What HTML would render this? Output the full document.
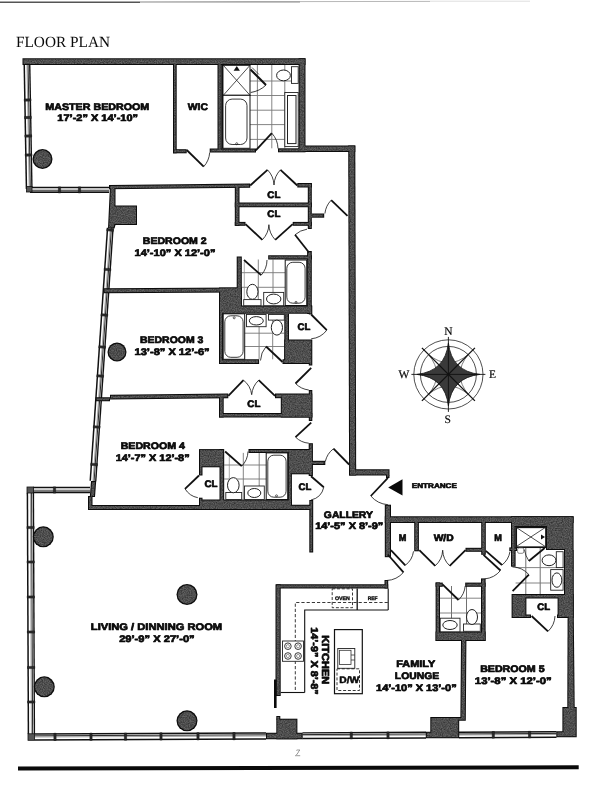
<!DOCTYPE html>
<html lang="en"><head><meta charset="utf-8"><title>Floor Plan</title>
<style>html,body{margin:0;padding:0;background:#ffffff}body{width:600px;height:800px;overflow:hidden}svg{display:block;filter:grayscale(1)}</style></head>
<body>
<svg width="600" height="800" viewBox="0 0 600 800">
<rect width="600" height="800" fill="#ffffff"/>
<g id="under"><line x1="257.4" y1="65" x2="257.4" y2="148.3" stroke="#777" stroke-width="0.9"/>
<line x1="271.8" y1="65" x2="271.8" y2="148.3" stroke="#777" stroke-width="0.9"/>
<line x1="284.8" y1="65" x2="284.8" y2="148.3" stroke="#777" stroke-width="0.9"/>
<line x1="250" y1="81" x2="298.6" y2="81" stroke="#777" stroke-width="0.9"/>
<line x1="250" y1="95.5" x2="298.6" y2="95.5" stroke="#777" stroke-width="0.9"/>
<line x1="250" y1="110.2" x2="298.6" y2="110.2" stroke="#777" stroke-width="0.9"/>
<line x1="250" y1="124.6" x2="298.6" y2="124.6" stroke="#777" stroke-width="0.9"/>
<line x1="250" y1="139.4" x2="298.6" y2="139.4" stroke="#777" stroke-width="0.9"/>
<line x1="258.3" y1="259.5" x2="258.3" y2="305.5" stroke="#777" stroke-width="0.9"/>
<line x1="273" y1="259.5" x2="273" y2="305.5" stroke="#777" stroke-width="0.9"/>
<line x1="241.8" y1="272.7" x2="285.2" y2="272.7" stroke="#777" stroke-width="0.9"/>
<line x1="241.8" y1="287.3" x2="285.2" y2="287.3" stroke="#777" stroke-width="0.9"/>
<line x1="244.3" y1="262" x2="244.3" y2="300" stroke="#888" stroke-width="0.7"/>
<line x1="259.1" y1="313.8" x2="259.1" y2="359.3" stroke="#777" stroke-width="0.9"/>
<line x1="272.7" y1="313.8" x2="272.7" y2="359.3" stroke="#777" stroke-width="0.9"/>
<line x1="223.2" y1="333.2" x2="284.3" y2="333.2" stroke="#777" stroke-width="0.9"/>
<line x1="223.2" y1="346.5" x2="284.3" y2="346.5" stroke="#777" stroke-width="0.9"/>
<line x1="243.3" y1="452.9" x2="243.3" y2="499.5" stroke="#777" stroke-width="0.9"/>
<line x1="259.2" y1="452.9" x2="259.2" y2="499.5" stroke="#777" stroke-width="0.9"/>
<line x1="224.2" y1="465" x2="287.7" y2="465" stroke="#777" stroke-width="0.9"/>
<line x1="224.2" y1="479" x2="287.7" y2="479" stroke="#777" stroke-width="0.9"/>
<line x1="229.3" y1="455" x2="229.3" y2="486" stroke="#888" stroke-width="0.7"/>
<line x1="525.8" y1="547" x2="525.8" y2="594" stroke="#333" stroke-width="0.7"/>
<line x1="540.2" y1="547" x2="540.2" y2="594" stroke="#333" stroke-width="0.7"/>
<line x1="515.6" y1="567.6" x2="564" y2="567.6" stroke="#777" stroke-width="0.9"/>
<line x1="515.6" y1="583" x2="564" y2="583" stroke="#777" stroke-width="0.9"/>
<line x1="451.5" y1="586" x2="451.5" y2="631.6" stroke="#333" stroke-width="0.7"/>
<line x1="466.5" y1="586" x2="466.5" y2="631.6" stroke="#333" stroke-width="0.7"/>
<line x1="440" y1="598.2" x2="481" y2="598.2" stroke="#777" stroke-width="0.9"/>
<line x1="440" y1="613" x2="481" y2="613" stroke="#777" stroke-width="0.9"/></g>
<g id="wins"><polygon points="24.25,65.05 26.45,189.05 31.95,188.95 29.75,64.95" fill="#fff" stroke="none"/>
<line x1="24.25" y1="65.05" x2="26.45" y2="189.05" stroke="#111" stroke-width="1.5"/>
<line x1="27" y1="65" x2="29.2" y2="189" stroke="#8a8a8a" stroke-width="0.8"/>
<line x1="28.1" y1="64.98" x2="30.3" y2="188.98" stroke="#2a2a2a" stroke-width="1.0"/>
<line x1="29.75" y1="64.95" x2="31.95" y2="188.95" stroke="#111" stroke-width="1.4"/>
<polygon points="24.25,98.96 24.29,101.16 30.99,101.04 30.95,98.84" fill="#2a2a2a" stroke="#111" stroke-width="0.5"/>
<polygon points="24.56,116.46 24.6,118.66 31.3,118.54 31.26,116.34" fill="#2a2a2a" stroke="#111" stroke-width="0.5"/>
<polygon points="24.89,134.96 24.93,137.16 31.63,137.04 31.59,134.84" fill="#2a2a2a" stroke="#111" stroke-width="0.5"/>
<polygon points="25.23,153.96 25.27,156.16 31.97,156.04 31.93,153.84" fill="#2a2a2a" stroke="#111" stroke-width="0.5"/>
<polygon points="30,192.3 109,192.3 109,187.5 30,187.5" fill="#fff" stroke="none"/>
<line x1="30" y1="187.5" x2="109" y2="187.5" stroke="#111" stroke-width="1.5"/>
<line x1="30" y1="189.9" x2="109" y2="189.9" stroke="#8a8a8a" stroke-width="0.8"/>
<line x1="30" y1="190.86" x2="109" y2="190.86" stroke="#2a2a2a" stroke-width="1.0"/>
<line x1="30" y1="192.3" x2="109" y2="192.3" stroke="#111" stroke-width="1.4"/>
<polygon points="58.4,192.9 60.6,192.9 60.6,186.9 58.4,186.9" fill="#2a2a2a" stroke="#111" stroke-width="0.5"/>
<polygon points="78.4,192.9 80.6,192.9 80.6,186.9 78.4,186.9" fill="#2a2a2a" stroke="#111" stroke-width="0.5"/>
<polygon points="107.56,227.81 90.26,480.81 95.74,481.19 113.04,228.19" fill="#fff" stroke="none"/>
<line x1="107.56" y1="227.81" x2="90.26" y2="480.81" stroke="#111" stroke-width="1.5"/>
<line x1="110.3" y1="228" x2="93" y2="481" stroke="#8a8a8a" stroke-width="0.8"/>
<line x1="111.4" y1="228.08" x2="94.1" y2="481.08" stroke="#2a2a2a" stroke-width="1.0"/>
<line x1="113.04" y1="228.19" x2="95.74" y2="481.19" stroke="#111" stroke-width="1.4"/>
<polygon points="106.9,228.67 106.75,230.87 113.43,231.33 113.58,229.13" fill="#2a2a2a" stroke="#111" stroke-width="0.5"/>
<polygon points="104.2,268.17 104.05,270.37 110.73,270.83 110.88,268.63" fill="#2a2a2a" stroke="#111" stroke-width="0.5"/>
<polygon points="101.08,313.67 100.93,315.87 107.62,316.33 107.77,314.13" fill="#2a2a2a" stroke="#111" stroke-width="0.5"/>
<polygon points="98.9,345.67 98.75,347.87 105.43,348.33 105.58,346.13" fill="#2a2a2a" stroke="#111" stroke-width="0.5"/>
<polygon points="96.91,374.67 96.76,376.87 103.45,377.33 103.6,375.13" fill="#2a2a2a" stroke="#111" stroke-width="0.5"/>
<polygon points="93.43,425.67 93.28,427.87 99.96,428.33 100.11,426.13" fill="#2a2a2a" stroke="#111" stroke-width="0.5"/>
<polygon points="90.86,463.17 90.71,465.37 97.4,465.83 97.55,463.63" fill="#2a2a2a" stroke="#111" stroke-width="0.5"/>
<polygon points="33,492.5 90,492.5 90,487.5 33,487.5" fill="#fff" stroke="none"/>
<line x1="33" y1="487.5" x2="90" y2="487.5" stroke="#111" stroke-width="1.5"/>
<line x1="33" y1="490" x2="90" y2="490" stroke="#8a8a8a" stroke-width="0.8"/>
<line x1="33" y1="491" x2="90" y2="491" stroke="#2a2a2a" stroke-width="1.0"/>
<line x1="33" y1="492.5" x2="90" y2="492.5" stroke="#111" stroke-width="1.4"/>
<polygon points="53.4,493.1 55.6,493.1 55.6,486.9 53.4,486.9" fill="#2a2a2a" stroke="#111" stroke-width="0.5"/>
<polygon points="27.4,493.01 28.4,734.01 34.4,733.99 33.4,492.99" fill="#fff" stroke="none"/>
<line x1="27.4" y1="493.01" x2="28.4" y2="734.01" stroke="#111" stroke-width="1.5"/>
<line x1="30.4" y1="493" x2="31.4" y2="734" stroke="#8a8a8a" stroke-width="0.8"/>
<line x1="31.6" y1="493" x2="32.6" y2="734" stroke="#2a2a2a" stroke-width="1.0"/>
<line x1="33.4" y1="492.99" x2="34.4" y2="733.99" stroke="#111" stroke-width="1.4"/>
<polygon points="26.94,526.41 26.95,528.61 34.15,528.59 34.14,526.39" fill="#2a2a2a" stroke="#111" stroke-width="0.5"/>
<polygon points="27.08,560.91 27.09,563.11 34.29,563.09 34.28,560.89" fill="#2a2a2a" stroke="#111" stroke-width="0.5"/>
<polygon points="27.23,595.91 27.24,598.11 34.44,598.09 34.43,595.89" fill="#2a2a2a" stroke="#111" stroke-width="0.5"/>
<polygon points="27.37,630.91 27.38,633.11 34.58,633.09 34.57,630.89" fill="#2a2a2a" stroke="#111" stroke-width="0.5"/>
<polygon points="27.52,666.41 27.53,668.61 34.73,668.59 34.72,666.39" fill="#2a2a2a" stroke="#111" stroke-width="0.5"/>
<polygon points="27.66,700.91 27.67,703.11 34.87,703.09 34.86,700.89" fill="#2a2a2a" stroke="#111" stroke-width="0.5"/>
<polygon points="34.51,740 266.01,739 265.99,733 34.49,734" fill="#fff" stroke="none"/>
<line x1="34.51" y1="740" x2="266.01" y2="739" stroke="#111" stroke-width="1.5"/>
<line x1="34.5" y1="737" x2="266" y2="736" stroke="#8a8a8a" stroke-width="0.8"/>
<line x1="34.49" y1="735.8" x2="265.99" y2="734.8" stroke="#2a2a2a" stroke-width="1.0"/>
<line x1="34.49" y1="734" x2="265.99" y2="733" stroke="#111" stroke-width="1.4"/>
<polygon points="53.92,740.52 56.12,740.51 56.08,733.31 53.88,733.32" fill="#2a2a2a" stroke="#111" stroke-width="0.5"/>
<polygon points="89.92,740.36 92.12,740.35 92.08,733.15 89.88,733.16" fill="#2a2a2a" stroke="#111" stroke-width="0.5"/>
<polygon points="124.42,740.21 126.62,740.2 126.58,733 124.38,733.01" fill="#2a2a2a" stroke="#111" stroke-width="0.5"/>
<polygon points="159.92,740.06 162.12,740.05 162.08,732.85 159.88,732.86" fill="#2a2a2a" stroke="#111" stroke-width="0.5"/>
<polygon points="196.92,739.9 199.12,739.89 199.08,732.69 196.88,732.7" fill="#2a2a2a" stroke="#111" stroke-width="0.5"/>
<polygon points="232.92,739.74 235.12,739.73 235.08,732.53 232.88,732.54" fill="#2a2a2a" stroke="#111" stroke-width="0.5"/>
<polygon points="302.51,738.5 426.01,737.9 425.99,732.3 302.49,732.9" fill="#fff" stroke="none"/>
<line x1="302.51" y1="738.5" x2="426.01" y2="737.9" stroke="#111" stroke-width="1.5"/>
<line x1="302.5" y1="735.7" x2="426" y2="735.1" stroke="#8a8a8a" stroke-width="0.8"/>
<line x1="302.49" y1="734.58" x2="425.99" y2="733.98" stroke="#2a2a2a" stroke-width="1.0"/>
<line x1="302.49" y1="732.9" x2="425.99" y2="732.3" stroke="#111" stroke-width="1.4"/>
<polygon points="350.22,738.87 352.42,738.86 352.38,732.06 350.18,732.07" fill="#2a2a2a" stroke="#111" stroke-width="0.5"/>
<polygon points="386.92,738.69 389.12,738.68 389.08,731.88 386.88,731.89" fill="#2a2a2a" stroke="#111" stroke-width="0.5"/>
<polygon points="459.01,737.7 556.51,737.2 556.49,731.8 458.99,732.3" fill="#fff" stroke="none"/>
<line x1="459.01" y1="737.7" x2="556.51" y2="737.2" stroke="#111" stroke-width="1.5"/>
<line x1="459" y1="735" x2="556.5" y2="734.5" stroke="#8a8a8a" stroke-width="0.8"/>
<line x1="458.99" y1="733.92" x2="556.49" y2="733.42" stroke="#2a2a2a" stroke-width="1.0"/>
<line x1="458.99" y1="732.3" x2="556.49" y2="731.8" stroke="#111" stroke-width="1.4"/>
<polygon points="492.22,738.13 494.42,738.12 494.38,731.52 492.18,731.53" fill="#2a2a2a" stroke="#111" stroke-width="0.5"/>
<polygon points="528.52,737.94 530.72,737.93 530.68,731.33 528.48,731.34" fill="#2a2a2a" stroke="#111" stroke-width="0.5"/></g>
<defs><filter id="er" x="0" y="0" width="600" height="800" filterUnits="userSpaceOnUse" color-interpolation-filters="sRGB"><feMorphology in="SourceAlpha" operator="erode" radius="0.9" result="e"/><feTurbulence type="fractalNoise" baseFrequency="0.85" numOctaves="2" seed="7" result="n"/><feColorMatrix in="n" type="matrix" values="0 0 0 0 0  0 0 0 0 0  0 0 0 0 0  1.6 0 0 0 -0.45" result="na"/><feFlood flood-color="#626262" result="g"/><feFlood flood-color="#2a2a2a" result="d"/><feComposite in="d" in2="na" operator="in" result="dn"/><feMerge result="tex"><feMergeNode in="g"/><feMergeNode in="dn"/></feMerge><feComposite in="tex" in2="e" operator="in"/></filter></defs>
<g id="walls" fill="#0c0c0c" stroke="none">
<polygon points="22.5,58.3 305.5,58.3 305.5,65 22.5,65"/>
<polygon points="298.6,58.3 305.5,58.3 305.5,152 298.6,152"/>
<polygon points="298.6,145.5 355.3,145.5 355.3,152 298.6,152"/>
<polygon points="348.2,145.5 355.3,145.5 356.2,475.5 349.1,475.5"/>
<polygon points="349.1,469.2 389.5,469.2 389.5,475.5 349.1,475.5"/>
<polygon points="386,475 389.5,475 389.5,478 386,478"/>
<polygon points="173,65 176.7,65 176.7,153.3 173,153.3"/>
<polygon points="173,149.2 186.7,149.2 186.7,153.3 173,153.3"/>
<polygon points="209.7,148.6 256,148.6 256,152.5 209.7,152.5"/>
<polygon points="217.5,65 221.8,65 221.8,152 217.5,152"/>
<polygon points="278,148.3 305.5,148.3 305.5,152.3 278,152.3"/>
<polygon points="109,184.9 250.2,183.4 250.2,187.7 109,189.3"/>
<polygon points="110,185 115.5,185 115.5,205.5 137,205.5 137,225 115.5,225 114.5,228.5 108,228.5"/>
<polygon points="234.8,184 239.5,184 239.5,225.8 234.8,225.8"/>
<polygon points="234.8,202.5 311.8,202.5 311.8,207.2 234.8,207.2"/>
<polygon points="307.8,183 311.8,183 311.8,229 307.8,229"/>
<polygon points="297.3,183 311.8,183 311.8,187.5 297.3,187.5"/>
<polygon points="234.8,221.9 245.5,221.9 245.5,225.8 234.8,225.8"/>
<polygon points="292.7,221.9 311.8,221.9 311.8,225.8 292.7,225.8"/>
<polygon points="311.8,213.5 324.2,213.5 324.2,217.7 311.8,217.7"/>
<polygon points="236.7,256.5 241.8,256.5 241.8,306 236.7,306"/>
<polygon points="268.2,255.3 311.8,255.3 311.8,259.5 268.2,259.5"/>
<polygon points="307.1,251 311.8,251 311.8,314 307.1,314"/>
<polygon points="219,305.5 311.8,305.5 311.8,313.8 219,313.8"/>
<polygon points="103.5,288.2 241,287.5 241,292.5 103.5,293.2"/>
<polygon points="219,287.5 241.8,287.5 241.8,313.8 219,313.8"/>
<polygon points="219,288 223.2,288 223.2,364 219,364"/>
<polygon points="219,359.3 259.1,359.3 259.1,364 219,364"/>
<polygon points="284.3,313.8 289,313.8 289,364 284.3,364"/>
<polygon points="284.3,339.5 312.3,339.5 312.3,365.5 308.8,365.5 308.8,364 282.5,364 282.5,359.3 284.3,359.3"/>
<polygon points="308.8,305.5 312.3,305.5 312.3,314.5 308.8,314.5"/>
<polygon points="95.5,397.2 110,397.2 110,394.8 228.3,393.5 228.3,398.2 110,399.5 110,401.3 95.5,401.3"/>
<polygon points="219,395.8 223.7,395.8 223.7,417.5 219,417.5"/>
<polygon points="219,412.9 312.3,412.9 312.3,417.5 219,417.5"/>
<polygon points="280.8,393.5 312.3,393.5 312.3,417.5 280.8,417.5"/>
<polygon points="275,393.5 281,393.5 281,398.2 275,398.2"/>
<polygon points="308.8,390 312.3,390 312.3,421 308.8,421"/>
<polygon points="199,449.1 223.5,449.1 223.5,467.3 199,467.3"/>
<polygon points="199,467 202.5,467 202.5,475.5 199,475.5"/>
<polygon points="199,497.7 202.5,497.7 202.5,508.5 199,508.5"/>
<polygon points="219.5,449.1 224.2,449.1 224.2,508.5 219.5,508.5"/>
<polygon points="248.5,449.1 312.2,449.1 312.2,452.9 248.5,452.9"/>
<polygon points="287.7,449.1 312.2,449.1 312.2,474.3 287.7,474.3"/>
<polygon points="287.7,474 291.9,474 291.9,508.5 287.7,508.5"/>
<polygon points="199,499.5 291.9,499.5 291.9,508.5 199,508.5"/>
<polygon points="199,504.7 312.5,504.7 312.5,508.5 199,508.5"/>
<polygon points="308.7,443.2 312.9,443.2 312.9,476 308.7,476"/>
<polygon points="309.3,500 313.2,500 313.2,552.5 309.3,552.5"/>
<polygon points="312.2,460.8 325.3,460.8 325.3,465 312.2,465"/>
<polygon points="88,505 312,505 312,510 88,510"/>
<polygon points="88,496 92.5,496 92.5,510 88,510"/>
<polygon points="91,481 96.2,481 95,497 89.8,497"/>
<polygon points="384.8,504.7 391,504.7 391,557.2 384.8,557.2"/>
<polygon points="384.8,516.3 573.6,516.3 573.6,522.9 384.8,522.9"/>
<polygon points="414.2,522.9 418.9,522.9 418.9,551.3 414.2,551.3"/>
<polygon points="481.2,522.9 485.8,522.9 485.8,554.8 481.2,554.8"/>
<polygon points="465.5,547.8 484.7,547.8 484.7,551.8 465.5,551.8"/>
<polygon points="511,522.6 515.6,522.6 515.6,566.7 511,566.7"/>
<polygon points="509.3,547.4 517,547.4 517,551 509.3,551"/>
<polygon points="511,516.3 546,516.3 546,527 511,527"/>
<polygon points="546,516.3 573.6,516.3 573.6,550 546,550"/>
<polygon points="564,550 573.8,550 573.8,618 564,618"/>
<polygon points="567.6,618 573.8,618 574.7,707.5 567.3,707.5"/>
<polygon points="562.4,707 576.7,707 576.7,737.3 556.3,737.3 556.3,731.3 562.4,731.3"/>
<polygon points="511.6,594 573.6,594 573.6,618 557,618 557,614.6 557.6,614.6 557.6,598.6 526.4,598.6 526.4,614.6 531,614.6 531,618 511.6,618"/>
<polygon points="435.6,582.4 440,582.4 440,641 435.6,641"/>
<polygon points="435.6,582.6 442.8,582.6 442.8,586.8 435.6,586.8"/>
<polygon points="465.2,582.6 485.6,582.6 485.6,586.8 465.2,586.8"/>
<polygon points="481,578.4 485.6,578.4 485.6,641 481,641"/>
<polygon points="435.6,631.6 485.6,631.6 485.6,641 435.6,641"/>
<polygon points="461,641 466.4,641 465.8,720.8 459,720.8 459,717 460.4,717"/>
<polygon points="430.3,717 459.2,717 459.2,738.3 425.8,738.3 425.8,731.7 430.3,731.7"/>
<polygon points="276.2,584.3 388.2,584.3 388.2,588.5 276.2,588.5"/>
<polygon points="384.5,580 388.2,580 388.2,588.5 384.5,588.5"/>
<polygon points="275.5,584.3 280.7,584.3 280.7,696 275.5,696"/>
<polygon points="276.3,718.7 297.4,718.7 297.4,739.3 276.3,739.3"/>
<polygon points="276.3,716 280.3,716 280.3,719.5 276.3,719.5"/>
<polygon points="266,732.7 302.7,732.7 302.7,739.3 266,739.3"/>
<circle cx="42.5" cy="159" r="10"/>
<circle cx="117" cy="352" r="9.5"/>
<circle cx="43.3" cy="536.8" r="10.5"/>
<circle cx="44.3" cy="686.8" r="10.5"/>
<circle cx="187" cy="594.5" r="10.5"/>
<circle cx="187" cy="720.8" r="10.5"/>
</g>
<use href="#walls" filter="url(#er)"/>
<g id="lines" stroke-linecap="butt"><line x1="0" y1="2.2" x2="140" y2="2.2" stroke="#555" stroke-width="1.4"/>
<line x1="140" y1="2" x2="300" y2="1.8" stroke="#8a8a8a" stroke-width="1.2"/>
<line x1="300" y1="1.6" x2="430" y2="1.4" stroke="#b8b8b8" stroke-width="1"/>
<line x1="430" y1="1.2" x2="530" y2="1.2" stroke="#dedede" stroke-width="1"/>
<polygon points="18,766.4 578.7,765.3 578.7,769.3 18,770.5" fill="#0a0a0a"/>
<line x1="295" y1="755.7" x2="300.2" y2="755.7" stroke="#555" stroke-width="0.6"/>
<rect x="274" y="679.5" width="2.6" height="28.5" fill="#0a0a0a"/>
<rect x="26.5" y="186.5" width="5.5" height="5.5" fill="#555" stroke="#111" stroke-width="0.8"/>
<rect x="27" y="487" width="6.5" height="6" fill="#555" stroke="#111" stroke-width="0.8"/>
<rect x="28" y="733.8" width="6.5" height="6.5" fill="#555" stroke="#111" stroke-width="0.8"/>
<line x1="186.7" y1="150" x2="203.7" y2="166.7" stroke="#111" stroke-width="1.8"/>
<path d="M203.7 166.7 A23.83 23.83 0 0 0 209.7 152.5" fill="none" stroke="#111" stroke-width="0.8"/>
<line x1="255.8" y1="150.3" x2="271.8" y2="133.2" stroke="#111" stroke-width="1.8"/>
<path d="M271.8 133.2 A23.42 23.42 0 0 1 278 148.5" fill="none" stroke="#111" stroke-width="0.8"/>
<line x1="250.2" y1="185.5" x2="267.5" y2="169.8" stroke="#111" stroke-width="1.8"/>
<path d="M267.5 169.8 A23.36 23.36 0 0 1 274 185" fill="none" stroke="#111" stroke-width="0.8"/>
<line x1="297.3" y1="185.5" x2="280.5" y2="169.8" stroke="#111" stroke-width="1.8"/>
<path d="M280.5 169.8 A22.99 22.99 0 0 0 274 185" fill="none" stroke="#111" stroke-width="0.8"/>
<line x1="245.5" y1="224.2" x2="262.3" y2="239.8" stroke="#111" stroke-width="1.8"/>
<path d="M262.3 239.8 A22.93 22.93 0 0 0 268.9 224.7" fill="none" stroke="#111" stroke-width="0.8"/>
<line x1="292.7" y1="224.2" x2="275.2" y2="239.8" stroke="#111" stroke-width="1.8"/>
<path d="M275.2 239.8 A23.44 23.44 0 0 1 268.9 224.7" fill="none" stroke="#111" stroke-width="0.8"/>
<line x1="347.5" y1="215.8" x2="331.2" y2="200.2" stroke="#111" stroke-width="1.8"/>
<path d="M331.2 200.2 A22.56 22.56 0 0 0 324.9 213.5" fill="none" stroke="#111" stroke-width="0.8"/>
<line x1="309" y1="252.5" x2="295" y2="234.8" stroke="#111" stroke-width="1.8"/>
<path d="M295 234.8 A22.57 22.57 0 0 1 307 229.2" fill="none" stroke="#111" stroke-width="0.8"/>
<line x1="244" y1="260" x2="261.2" y2="275.2" stroke="#111" stroke-width="1.8"/>
<path d="M261.2 275.2 A22.95 22.95 0 0 0 267 260" fill="none" stroke="#111" stroke-width="0.8"/>
<line x1="311.2" y1="314.5" x2="326.8" y2="330.2" stroke="#111" stroke-width="1.8"/>
<path d="M326.8 330.2 A22.13 22.13 0 0 1 311.2 338.8" fill="none" stroke="#111" stroke-width="0.8"/>
<line x1="282.5" y1="362" x2="266.1" y2="346.5" stroke="#111" stroke-width="1.8"/>
<path d="M266.1 346.5 A22.57 22.57 0 0 0 260.5 360.5" fill="none" stroke="#111" stroke-width="0.8"/>
<line x1="311.2" y1="367.8" x2="295.5" y2="383.5" stroke="#111" stroke-width="1.8"/>
<path d="M295.5 383.5 A22.2 22.2 0 0 0 308.8 390" fill="none" stroke="#111" stroke-width="0.8"/>
<line x1="228.3" y1="395.8" x2="243.5" y2="380.2" stroke="#111" stroke-width="1.8"/>
<path d="M243.5 380.2 A21.78 21.78 0 0 1 251.7 394.7" fill="none" stroke="#111" stroke-width="0.8"/>
<line x1="275" y1="395.8" x2="258.7" y2="380.2" stroke="#111" stroke-width="1.8"/>
<path d="M258.7 380.2 A22.56 22.56 0 0 0 251.7 394.7" fill="none" stroke="#111" stroke-width="0.8"/>
<line x1="311.2" y1="422.7" x2="295.5" y2="437.1" stroke="#111" stroke-width="1.8"/>
<path d="M295.5 437.1 A21.3 21.3 0 0 0 308.8 443.2" fill="none" stroke="#111" stroke-width="0.8"/>
<line x1="199" y1="475.5" x2="185" y2="488.8" stroke="#111" stroke-width="1.8"/>
<path d="M185 488.8 A19.31 19.31 0 0 0 197.8 497.7" fill="none" stroke="#111" stroke-width="0.8"/>
<line x1="225.1" y1="451.5" x2="241.7" y2="466.2" stroke="#111" stroke-width="1.8"/>
<path d="M241.7 466.2 A22.17 22.17 0 0 0 248 451.5" fill="none" stroke="#111" stroke-width="0.8"/>
<line x1="311" y1="476.2" x2="323.8" y2="487.2" stroke="#111" stroke-width="1.8"/>
<path d="M323.8 487.2 A16.88 16.88 0 0 1 311 500" fill="none" stroke="#111" stroke-width="0.8"/>
<line x1="349.1" y1="464.5" x2="333.5" y2="448.7" stroke="#111" stroke-width="1.8"/>
<path d="M333.5 448.7 A22.2 22.2 0 0 0 325.3 461.5" fill="none" stroke="#111" stroke-width="0.8"/>
<line x1="387.9" y1="477.8" x2="370.8" y2="496" stroke="#111" stroke-width="1.8"/>
<path d="M370.8 496 A24.97 24.97 0 0 0 387.9 504.7" fill="none" stroke="#111" stroke-width="0.8"/>
<line x1="390.9" y1="550.2" x2="405.3" y2="565.3" stroke="#111" stroke-width="1.8"/>
<path d="M405.3 565.3 A20.87 20.87 0 0 0 413.5 551.3" fill="none" stroke="#111" stroke-width="0.8"/>
<line x1="387.8" y1="554.5" x2="403.5" y2="572.3" stroke="#111" stroke-width="1.8"/>
<path d="M403.5 572.3 A23.73 23.73 0 0 1 386.7 580.5" fill="none" stroke="#111" stroke-width="0.8"/>
<line x1="419.3" y1="550.2" x2="435.2" y2="565.8" stroke="#111" stroke-width="1.8"/>
<path d="M435.2 565.8 A22.27 22.27 0 0 0 442.7 550.2" fill="none" stroke="#111" stroke-width="0.8"/>
<line x1="465.5" y1="550.2" x2="449.7" y2="565.8" stroke="#111" stroke-width="1.8"/>
<path d="M449.7 565.8 A22.2 22.2 0 0 1 442.7 550.2" fill="none" stroke="#111" stroke-width="0.8"/>
<line x1="485.8" y1="550.9" x2="502" y2="565" stroke="#111" stroke-width="1.8"/>
<path d="M502 565 A21.48 21.48 0 0 0 510 551.5" fill="none" stroke="#111" stroke-width="0.8"/>
<line x1="483.5" y1="554.8" x2="500.5" y2="570.5" stroke="#111" stroke-width="1.8"/>
<path d="M500.5 570.5 A23.14 23.14 0 0 1 484.7 578.9" fill="none" stroke="#111" stroke-width="0.8"/>
<line x1="442.5" y1="584.4" x2="458.5" y2="600" stroke="#111" stroke-width="1.8"/>
<path d="M458.5 600 A22.35 22.35 0 0 0 465.2 586" fill="none" stroke="#111" stroke-width="0.8"/>
<line x1="512.6" y1="591.2" x2="528.9" y2="574.6" stroke="#111" stroke-width="1.8"/>
<path d="M528.9 574.6 A23.26 23.26 0 0 0 512.4 566.9" fill="none" stroke="#111" stroke-width="0.8"/>
<line x1="531.6" y1="616" x2="548" y2="631.4" stroke="#111" stroke-width="1.8"/>
<path d="M548 631.4 A22.5 22.5 0 0 0 555 616" fill="none" stroke="#111" stroke-width="0.8"/>
<polygon points="250,65 250,96 223.3,96 223.3,65" fill="#fff"/>
<rect x="222.6" y="65.3" width="27.4" height="30" rx="0" fill="#fff" stroke="#111" stroke-width="1.0"/>
<line x1="223.3" y1="65.3" x2="250" y2="95.3" stroke="#222" stroke-width="0.8"/>
<line x1="250" y1="65.3" x2="223.3" y2="95.3" stroke="#222" stroke-width="0.8"/>
<polygon points="233.6,70.8 239.9,70.8 236.8,65.9" fill="#111"/>
<rect x="222.6" y="95.3" width="27.4" height="53" rx="0" fill="#fff" stroke="#111" stroke-width="1"/>
<rect x="225.6" y="99.1" width="21.4" height="45.4" rx="6.5" fill="none" stroke="#222" stroke-width="0.9"/>
<ellipse cx="236.7" cy="143.7" rx="1" ry="1" fill="none" stroke="#222" stroke-width="0.7"/>
<line x1="222.6" y1="65" x2="222.6" y2="148.5" stroke="#111" stroke-width="1.6"/>
<path d="M250.5 69.5 L266 85" fill="none" stroke="#111" stroke-width="2"/>
<path d="M252 67.5 L259 74.5" fill="none" stroke="#333" stroke-width="0.8"/>
<path d="M266 85 Q260 91 250.7 92.5" fill="none" stroke="#222" stroke-width="0.9"/>
<polygon points="250,66 266,85 258,91 250,93" fill="#fff" opacity="0"/>
<rect x="291.5" y="66.7" width="6.7" height="16.7" rx="0" fill="#fff" stroke="#222" stroke-width="0.9"/>
<ellipse cx="283.5" cy="75.4" rx="6.9" ry="5.4" fill="#fff" stroke="#222" stroke-width="1"/>
<rect x="284.8" y="92.5" width="13.4" height="54.1" rx="0" fill="#fff" stroke="#222" stroke-width="0.9"/>
<rect x="287.5" y="95.5" width="8.5" height="48.1" rx="0" fill="none" stroke="#222" stroke-width="1"/>
<rect x="285.2" y="260" width="21.5" height="45.5" rx="0" fill="#fff" stroke="#111" stroke-width="1"/>
<rect x="286.8" y="262.3" width="18.3" height="40.9" rx="6" fill="none" stroke="#222" stroke-width="0.9"/>
<ellipse cx="296" cy="302.3" rx="1" ry="1" fill="none" stroke="#222" stroke-width="0.7"/>
<rect x="243.7" y="299.6" width="17.3" height="6.1" rx="0" fill="#fff" stroke="#222" stroke-width="0.9"/>
<ellipse cx="252.4" cy="291.8" rx="5.6" ry="7.5" fill="#fff" stroke="#222" stroke-width="1"/>
<rect x="263.7" y="292.4" width="20" height="13.3" rx="0" fill="#fff" stroke="#222" stroke-width="0.9"/>
<ellipse cx="273.7" cy="299" rx="7.2" ry="4.9" fill="#fff" stroke="#222" stroke-width="1"/>
<rect x="223.2" y="313.8" width="21.5" height="45.5" rx="0" fill="#fff" stroke="#111" stroke-width="1"/>
<rect x="224.8" y="315.8" width="18.3" height="41.5" rx="6" fill="none" stroke="#222" stroke-width="0.9"/>
<ellipse cx="234.2" cy="317.8" rx="1" ry="1" fill="none" stroke="#222" stroke-width="0.7"/>
<rect x="246.5" y="314.5" width="19.6" height="12.2" rx="0" fill="#fff" stroke="#222" stroke-width="0.9"/>
<ellipse cx="256.3" cy="320.8" rx="7" ry="4.2" fill="#fff" stroke="#222" stroke-width="1"/>
<rect x="268.5" y="314.5" width="15.8" height="5.6" rx="0" fill="#fff" stroke="#222" stroke-width="0.9"/>
<ellipse cx="276.9" cy="327.6" rx="5.6" ry="7.5" fill="#fff" stroke="#222" stroke-width="1"/>
<rect x="266.2" y="452.9" width="21.5" height="46.6" rx="0" fill="#fff" stroke="#111" stroke-width="1"/>
<rect x="267.8" y="455.2" width="18.3" height="42" rx="6" fill="none" stroke="#222" stroke-width="0.9"/>
<ellipse cx="276.5" cy="495.8" rx="1" ry="1" fill="none" stroke="#222" stroke-width="0.7"/>
<rect x="225.8" y="492.5" width="15.9" height="7" rx="0" fill="#fff" stroke="#222" stroke-width="0.9"/>
<ellipse cx="233.3" cy="485.2" rx="5.8" ry="7.6" fill="#fff" stroke="#222" stroke-width="1"/>
<rect x="244.5" y="486" width="19.8" height="13.5" rx="0" fill="#fff" stroke="#222" stroke-width="0.9"/>
<ellipse cx="254.3" cy="493" rx="6.5" ry="4.5" fill="#fff" stroke="#222" stroke-width="1"/>
<rect x="516.2" y="527.3" width="29.8" height="19.9" rx="0" fill="#fff" stroke="#111" stroke-width="1.7"/>
<line x1="515.6" y1="527" x2="546" y2="547" stroke="#222" stroke-width="0.8"/>
<line x1="546" y1="527" x2="515.6" y2="547" stroke="#222" stroke-width="0.8"/>
<polygon points="541,534.5 541,539.5 545,537" fill="#111"/>
<rect x="556.3" y="551.7" width="6.8" height="15.9" rx="0" fill="#fff" stroke="#222" stroke-width="0.9"/>
<ellipse cx="549" cy="560.3" rx="6.9" ry="5.4" fill="#fff" stroke="#222" stroke-width="1"/>
<rect x="550.7" y="569.6" width="12.4" height="20.6" rx="0" fill="#fff" stroke="#222" stroke-width="0.9"/>
<ellipse cx="556.9" cy="580.1" rx="4.9" ry="7.2" fill="#fff" stroke="#222" stroke-width="1"/>
<path d="M544.7 548 L528.9 561" fill="none" stroke="#111" stroke-width="1.8"/>
<path d="M528.9 561 Q525.5 556 524.3 549.5" fill="none" stroke="#222" stroke-width="0.8"/>
<rect x="517.6" y="547.8" width="6.1" height="5.5" rx="1.5" fill="none" stroke="#555" stroke-width="0.7"/>
<rect x="463.5" y="624" width="16.8" height="7.3" rx="0" fill="#fff" stroke="#222" stroke-width="0.9"/>
<ellipse cx="472" cy="617" rx="5.5" ry="7.5" fill="#fff" stroke="#222" stroke-width="1"/>
<rect x="440.2" y="618.2" width="19.8" height="13.6" rx="0" fill="#fff" stroke="#222" stroke-width="0.9"/>
<ellipse cx="450" cy="625" rx="7.2" ry="4.5" fill="#fff" stroke="#222" stroke-width="1"/>
<path d="M304.7 692.5 L304.7 610 L388.2 610" fill="none" stroke="#111" stroke-width="1.1"/>
<line x1="280.7" y1="692.5" x2="304.7" y2="692.5" stroke="#111" stroke-width="1.1"/>
<line x1="388.2" y1="588.5" x2="388.2" y2="610" stroke="#111" stroke-width="1.1"/>
<line x1="357.2" y1="588.5" x2="357.2" y2="610" stroke="#111" stroke-width="1.3"/>
<path d="M295.3 690 L295.3 602.5 L388 602.5" fill="none" stroke="#222" stroke-width="0.9" stroke-dasharray="3.2 2"/>
<rect x="332.2" y="588.8" width="20.3" height="18.9" rx="0" fill="none" stroke="#222" stroke-width="0.9" stroke-dasharray="3 1.8"/>
<rect x="282.5" y="641" width="21" height="20.3" rx="0" fill="#fff" stroke="#222" stroke-width="0.9"/>
<ellipse cx="287.9" cy="646.2" rx="3.3" ry="3.3" fill="none" stroke="#222" stroke-width="0.9"/>
<ellipse cx="287.9" cy="646.2" rx="1.6" ry="1.6" fill="none" stroke="#555" stroke-width="0.6"/>
<ellipse cx="298.1" cy="646.2" rx="3.3" ry="3.3" fill="none" stroke="#222" stroke-width="0.9"/>
<ellipse cx="298.1" cy="646.2" rx="1.6" ry="1.6" fill="none" stroke="#555" stroke-width="0.6"/>
<ellipse cx="287.9" cy="656" rx="3.3" ry="3.3" fill="none" stroke="#222" stroke-width="0.9"/>
<ellipse cx="287.9" cy="656" rx="1.6" ry="1.6" fill="none" stroke="#555" stroke-width="0.6"/>
<ellipse cx="298.1" cy="656" rx="3.3" ry="3.3" fill="none" stroke="#222" stroke-width="0.9"/>
<ellipse cx="298.1" cy="656" rx="1.6" ry="1.6" fill="none" stroke="#555" stroke-width="0.6"/>
<rect x="334.5" y="629.6" width="27.8" height="64.1" rx="0" fill="#fff" stroke="#111" stroke-width="1.2"/>
<rect x="337.8" y="648.5" width="17" height="19.8" rx="0" fill="none" stroke="#222" stroke-width="0.9"/>
<rect x="339.5" y="650.3" width="11.5" height="14.2" rx="0" fill="none" stroke="#333" stroke-width="0.8"/>
<line x1="351" y1="655" x2="354.8" y2="655" stroke="#333" stroke-width="0.8"/>
<line x1="351" y1="660" x2="354.8" y2="660" stroke="#333" stroke-width="0.8"/>
<rect x="337" y="668.8" width="22.5" height="21.7" rx="0" fill="none" stroke="#222" stroke-width="0.9" stroke-dasharray="3 1.8"/>
<polygon points="388.2,487.6 402.5,479.3 402.5,495.6" fill="#0a0a0a"/>
<ellipse cx="448.4" cy="374.4" rx="34.6" ry="34.6" fill="none" stroke="#222" stroke-width="0.8"/>
<ellipse cx="448.4" cy="374.4" rx="28" ry="28" fill="none" stroke="#222" stroke-width="0.8"/>
<path d="M468.20 354.60 Q451.90 374.40 468.20 394.20 Q448.40 377.90 428.60 394.20 Q444.90 374.40 428.60 354.60 Q448.40 370.90 468.20 354.60 Z" fill="none" stroke="#444" stroke-width="0.7"/>
<path d="M448.40 342.90 Q451.58 371.22 479.90 374.40 Q451.58 377.58 448.40 405.90 Q445.22 377.58 416.90 374.40 Q445.22 371.22 448.40 342.90 Z" fill="#3a3a3a" stroke="#111" stroke-width="0.8"/>
<line x1="448.4" y1="336.9" x2="448.4" y2="411.9" stroke="#111" stroke-width="0.9"/>
<line x1="411.4" y1="374.4" x2="485.4" y2="374.4" stroke="#111" stroke-width="0.9"/>
<line x1="421.9" y1="347.9" x2="474.9" y2="400.9" stroke="#111" stroke-width="1.3"/>
<line x1="421.9" y1="400.9" x2="474.9" y2="347.9" stroke="#111" stroke-width="1.3"/></g>
<g id="texts" opacity="0.999" text-rendering="geometricPrecision"><text x="16" y="46.5" font-family='"Liberation Serif", "Times New Roman", serif' font-size="15.5" font-weight="normal" text-anchor="start" fill="#0a0a0a" textLength="94" lengthAdjust="spacingAndGlyphs">FLOOR PLAN</text>
<text x="297.8" y="754.9" font-family='"Liberation Serif", "Times New Roman", serif' font-size="8" font-style="italic" text-anchor="middle" fill="#444">7</text>
<text x="97.3" y="109.96" font-family='"Liberation Sans", Arial, sans-serif' font-size="9.5" font-weight="bold" text-anchor="middle" fill="#0a0a0a" stroke="#0a0a0a" stroke-width="0.7" stroke-linejoin="round" textLength="103.9" lengthAdjust="spacingAndGlyphs">MASTER BEDROOM</text>
<text x="97.7" y="120.96" font-family='"Liberation Sans", Arial, sans-serif' font-size="9.5" font-weight="bold" text-anchor="middle" fill="#0a0a0a" stroke="#0a0a0a" stroke-width="0.7" stroke-linejoin="round" textLength="80.7" lengthAdjust="spacingAndGlyphs">17’-2” X 14’-10”</text>
<text x="197.9" y="109.56" font-family='"Liberation Sans", Arial, sans-serif' font-size="9.5" font-weight="bold" text-anchor="middle" fill="#0a0a0a" stroke="#0a0a0a" stroke-width="0.7" stroke-linejoin="round" textLength="20.1" lengthAdjust="spacingAndGlyphs">WIC</text>
<text x="273.85" y="197.96" font-family='"Liberation Sans", Arial, sans-serif' font-size="9.5" font-weight="bold" text-anchor="middle" fill="#0a0a0a" stroke="#0a0a0a" stroke-width="0.7" stroke-linejoin="round" textLength="13" lengthAdjust="spacingAndGlyphs">CL</text>
<text x="273.85" y="217.26" font-family='"Liberation Sans", Arial, sans-serif' font-size="9.5" font-weight="bold" text-anchor="middle" fill="#0a0a0a" stroke="#0a0a0a" stroke-width="0.7" stroke-linejoin="round" textLength="13" lengthAdjust="spacingAndGlyphs">CL</text>
<text x="174.75" y="244.26" font-family='"Liberation Sans", Arial, sans-serif' font-size="9.5" font-weight="bold" text-anchor="middle" fill="#0a0a0a" stroke="#0a0a0a" stroke-width="0.7" stroke-linejoin="round" textLength="63.8" lengthAdjust="spacingAndGlyphs">BEDROOM 2</text>
<text x="175" y="255.66" font-family='"Liberation Sans", Arial, sans-serif' font-size="9.5" font-weight="bold" text-anchor="middle" fill="#0a0a0a" stroke="#0a0a0a" stroke-width="0.7" stroke-linejoin="round" textLength="80.9" lengthAdjust="spacingAndGlyphs">14’-10” X 12’-0”</text>
<text x="171.7" y="343.06" font-family='"Liberation Sans", Arial, sans-serif' font-size="9.5" font-weight="bold" text-anchor="middle" fill="#0a0a0a" stroke="#0a0a0a" stroke-width="0.7" stroke-linejoin="round" textLength="63.3" lengthAdjust="spacingAndGlyphs">BEDROOM 3</text>
<text x="172.1" y="354.56" font-family='"Liberation Sans", Arial, sans-serif' font-size="9.5" font-weight="bold" text-anchor="middle" fill="#0a0a0a" stroke="#0a0a0a" stroke-width="0.7" stroke-linejoin="round" textLength="75.1" lengthAdjust="spacingAndGlyphs">13’-8” X 12’-6”</text>
<text x="303.95" y="329.96" font-family='"Liberation Sans", Arial, sans-serif' font-size="9.5" font-weight="bold" text-anchor="middle" fill="#0a0a0a" stroke="#0a0a0a" stroke-width="0.7" stroke-linejoin="round" textLength="12.8" lengthAdjust="spacingAndGlyphs">CL</text>
<text x="253.85" y="406.96" font-family='"Liberation Sans", Arial, sans-serif' font-size="9.5" font-weight="bold" text-anchor="middle" fill="#0a0a0a" stroke="#0a0a0a" stroke-width="0.7" stroke-linejoin="round" textLength="13" lengthAdjust="spacingAndGlyphs">CL</text>
<text x="152.8" y="449.06" font-family='"Liberation Sans", Arial, sans-serif' font-size="9.5" font-weight="bold" text-anchor="middle" fill="#0a0a0a" stroke="#0a0a0a" stroke-width="0.7" stroke-linejoin="round" textLength="64.3" lengthAdjust="spacingAndGlyphs">BEDROOM 4</text>
<text x="152.65" y="460.76" font-family='"Liberation Sans", Arial, sans-serif' font-size="9.5" font-weight="bold" text-anchor="middle" fill="#0a0a0a" stroke="#0a0a0a" stroke-width="0.7" stroke-linejoin="round" textLength="74" lengthAdjust="spacingAndGlyphs">14’-7” X 12’-8”</text>
<text x="210.95" y="486.96" font-family='"Liberation Sans", Arial, sans-serif' font-size="9.5" font-weight="bold" text-anchor="middle" fill="#0a0a0a" stroke="#0a0a0a" stroke-width="0.7" stroke-linejoin="round" textLength="13" lengthAdjust="spacingAndGlyphs">CL</text>
<text x="304.95" y="489.96" font-family='"Liberation Sans", Arial, sans-serif' font-size="9.5" font-weight="bold" text-anchor="middle" fill="#0a0a0a" stroke="#0a0a0a" stroke-width="0.7" stroke-linejoin="round" textLength="12.8" lengthAdjust="spacingAndGlyphs">CL</text>
<text x="434.35" y="488.32" font-family='"Liberation Sans", Arial, sans-serif' font-size="6.9" font-weight="bold" text-anchor="middle" fill="#0a0a0a" stroke="#0a0a0a" stroke-width="0.6" stroke-linejoin="round" textLength="45.1" lengthAdjust="spacingAndGlyphs">ENTRANCE</text>
<text x="348.35" y="517.76" font-family='"Liberation Sans", Arial, sans-serif' font-size="9.5" font-weight="bold" text-anchor="middle" fill="#0a0a0a" stroke="#0a0a0a" stroke-width="0.7" stroke-linejoin="round" textLength="49" lengthAdjust="spacingAndGlyphs">GALLERY</text>
<text x="349.25" y="529.36" font-family='"Liberation Sans", Arial, sans-serif' font-size="9.5" font-weight="bold" text-anchor="middle" fill="#0a0a0a" stroke="#0a0a0a" stroke-width="0.7" stroke-linejoin="round" textLength="68.2" lengthAdjust="spacingAndGlyphs">14’-5” X 8’-9”</text>
<text x="402.45" y="541.26" font-family='"Liberation Sans", Arial, sans-serif' font-size="9.5" font-weight="bold" text-anchor="middle" fill="#0a0a0a" stroke="#0a0a0a" stroke-width="0.7" stroke-linejoin="round" textLength="7.6" lengthAdjust="spacingAndGlyphs">M</text>
<text x="443.65" y="541.26" font-family='"Liberation Sans", Arial, sans-serif' font-size="9.5" font-weight="bold" text-anchor="middle" fill="#0a0a0a" stroke="#0a0a0a" stroke-width="0.7" stroke-linejoin="round" textLength="20" lengthAdjust="spacingAndGlyphs">W/D</text>
<text x="498.15" y="540.76" font-family='"Liberation Sans", Arial, sans-serif' font-size="9.5" font-weight="bold" text-anchor="middle" fill="#0a0a0a" stroke="#0a0a0a" stroke-width="0.7" stroke-linejoin="round" textLength="7.6" lengthAdjust="spacingAndGlyphs">M</text>
<text x="543.75" y="609.76" font-family='"Liberation Sans", Arial, sans-serif' font-size="9.5" font-weight="bold" text-anchor="middle" fill="#0a0a0a" stroke="#0a0a0a" stroke-width="0.7" stroke-linejoin="round" textLength="12.8" lengthAdjust="spacingAndGlyphs">CL</text>
<text x="156.5" y="629.76" font-family='"Liberation Sans", Arial, sans-serif' font-size="9.5" font-weight="bold" text-anchor="middle" fill="#0a0a0a" stroke="#0a0a0a" stroke-width="0.7" stroke-linejoin="round" textLength="131.3" lengthAdjust="spacingAndGlyphs">LIVING / DINNING ROOM</text>
<text x="156.9" y="642.26" font-family='"Liberation Sans", Arial, sans-serif' font-size="9.5" font-weight="bold" text-anchor="middle" fill="#0a0a0a" stroke="#0a0a0a" stroke-width="0.7" stroke-linejoin="round" textLength="75.5" lengthAdjust="spacingAndGlyphs">29’-9” X 27’-0”</text>
<text x="415.75" y="667.26" font-family='"Liberation Sans", Arial, sans-serif' font-size="9.5" font-weight="bold" text-anchor="middle" fill="#0a0a0a" stroke="#0a0a0a" stroke-width="0.7" stroke-linejoin="round" textLength="38.8" lengthAdjust="spacingAndGlyphs">FAMILY</text>
<text x="417" y="679.46" font-family='"Liberation Sans", Arial, sans-serif' font-size="9.5" font-weight="bold" text-anchor="middle" fill="#0a0a0a" stroke="#0a0a0a" stroke-width="0.7" stroke-linejoin="round" textLength="44.3" lengthAdjust="spacingAndGlyphs">LOUNGE</text>
<text x="416.35" y="690.86" font-family='"Liberation Sans", Arial, sans-serif' font-size="9.5" font-weight="bold" text-anchor="middle" fill="#0a0a0a" stroke="#0a0a0a" stroke-width="0.7" stroke-linejoin="round" textLength="80.6" lengthAdjust="spacingAndGlyphs">14’-10” X 13’-0”</text>
<text x="512.4" y="671.86" font-family='"Liberation Sans", Arial, sans-serif' font-size="9.5" font-weight="bold" text-anchor="middle" fill="#0a0a0a" stroke="#0a0a0a" stroke-width="0.7" stroke-linejoin="round" textLength="64.5" lengthAdjust="spacingAndGlyphs">BEDROOM 5</text>
<text x="513.25" y="683.56" font-family='"Liberation Sans", Arial, sans-serif' font-size="9.5" font-weight="bold" text-anchor="middle" fill="#0a0a0a" stroke="#0a0a0a" stroke-width="0.7" stroke-linejoin="round" textLength="76.8" lengthAdjust="spacingAndGlyphs">13’-8” X 12’-0”</text>
<text x="322.2" y="659.8" font-family='"Liberation Sans", Arial, sans-serif' font-size="10.2" font-weight="bold" text-anchor="middle" fill="#0a0a0a" stroke="#0a0a0a" stroke-width="0.7" stroke-linejoin="round" textLength="49" lengthAdjust="spacingAndGlyphs" transform="rotate(90 322.2 659.8)">KITCHEN</text>
<text x="310.8" y="661" font-family='"Liberation Sans", Arial, sans-serif' font-size="10" font-weight="bold" text-anchor="middle" fill="#0a0a0a" stroke="#0a0a0a" stroke-width="0.7" stroke-linejoin="round" textLength="67.5" lengthAdjust="spacingAndGlyphs" transform="rotate(90 310.8 661)">14’-9” X 8’-8”</text>
<text x="349.25" y="682.89" font-family='"Liberation Sans", Arial, sans-serif' font-size="9.3" font-weight="bold" text-anchor="middle" fill="#0a0a0a" stroke="#0a0a0a" stroke-width="0.5" stroke-linejoin="round" textLength="20" lengthAdjust="spacingAndGlyphs">D/W</text>
<text x="342.4" y="599.7" font-family='"Liberation Sans", Arial, sans-serif' font-size="5.2" font-weight="bold" text-anchor="middle" fill="#0a0a0a" stroke="#0a0a0a" stroke-width="0.35" stroke-linejoin="round" textLength="14.85" lengthAdjust="spacingAndGlyphs">OVEN</text>
<text x="372.6" y="599.7" font-family='"Liberation Sans", Arial, sans-serif' font-size="5.2" font-weight="bold" text-anchor="middle" fill="#0a0a0a" stroke="#0a0a0a" stroke-width="0.35" stroke-linejoin="round" textLength="9.85" lengthAdjust="spacingAndGlyphs">REF</text>
<text x="448.4" y="334.5" font-family='"Liberation Serif", "Times New Roman", serif' font-size="11.5" font-weight="normal" text-anchor="middle" fill="#0a0a0a" stroke="#0a0a0a" stroke-width="0.2" stroke-linejoin="round">N</text>
<text x="447.8" y="423" font-family='"Liberation Serif", "Times New Roman", serif' font-size="11.5" font-weight="normal" text-anchor="middle" fill="#0a0a0a" stroke="#0a0a0a" stroke-width="0.2" stroke-linejoin="round">S</text>
<text x="404" y="378.3" font-family='"Liberation Serif", "Times New Roman", serif' font-size="11.5" font-weight="normal" text-anchor="middle" fill="#0a0a0a" stroke="#0a0a0a" stroke-width="0.2" stroke-linejoin="round">W</text>
<text x="492.6" y="378.3" font-family='"Liberation Serif", "Times New Roman", serif' font-size="11.5" font-weight="normal" text-anchor="middle" fill="#0a0a0a" stroke="#0a0a0a" stroke-width="0.2" stroke-linejoin="round">E</text></g>
</svg>
</body></html>
